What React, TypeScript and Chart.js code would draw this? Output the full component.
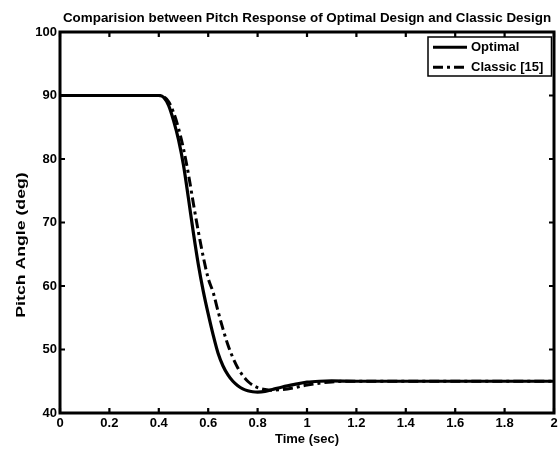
import React, { useEffect, useRef } from 'react';
import { Chart, registerables } from 'chart.js';

Chart.register(...registerables);

const chartTitle = 'Comparision between Pitch Response of Optimal Design and Classic Design';
const xTitle = 'Time (sec)';
const yTitle = 'Pitch Angle (deg)';
const seriesNames = ['Optimal', 'Classic [15]'];

const timeOptimal = [0, 0.4, 0.42, 0.44, 0.46, 0.48, 0.5, 0.52, 0.54, 0.56, 0.58, 0.6, 0.62, 0.64, 0.66, 0.68, 0.7, 0.72, 0.74, 0.76, 0.78, 0.8, 0.83, 0.86, 0.9, 0.95, 1.0, 1.05, 1.1, 1.2, 2.0];
const pitchOptimal = [90, 90, 89.7, 88.4, 86.0, 83.0, 79.0, 73.8, 68.4, 63.4, 59.2, 55.6, 52.3, 49.4, 47.4, 46.0, 45.0, 44.3, 43.8, 43.5, 43.35, 43.3, 43.4, 43.7, 44.1, 44.5, 44.85, 45.0, 45.05, 45.0, 45.0];

const timeClassic = [0, 0.4, 0.42, 0.44, 0.46, 0.48, 0.5, 0.52, 0.54, 0.56, 0.58, 0.6, 0.62, 0.64, 0.66, 0.68, 0.7, 0.72, 0.74, 0.76, 0.78, 0.8, 0.83, 0.86, 0.9, 0.95, 1.0, 1.05, 1.1, 1.15, 1.2, 2.0];
const pitchClassic = [90, 90, 89.8, 89.0, 87.3, 84.8, 81.6, 77.6, 73.0, 68.6, 64.6, 61.2, 59.0, 56.0, 53.2, 50.7, 48.7, 47.1, 45.9, 45.0, 44.4, 44.0, 43.7, 43.6, 43.7, 44.0, 44.4, 44.7, 44.9, 45.0, 45.0, 45.0];

const xTicks = [0, 0.2, 0.4, 0.6, 0.8, 1, 1.2, 1.4, 1.6, 1.8, 2];
const xTickLabels = ['0', '0.2', '0.4', '0.6', '0.8', '1', '1.2', '1.4', '1.6', '1.8', '2'];
const yTicks = [40, 50, 60, 70, 80, 90, 100];
const yTickLabels = ['40', '50', '60', '70', '80', '90', '100'];

const FONT = '"Liberation Sans", Arial, sans-serif';
const DASH_DOT = [10, 4, 3, 4];

function txt(ctx: any, s: string, x: number, y: number, align: string, stretch = 1, rotate = false) {
  ctx.save();
  ctx.translate(x, y);
  ctx.scale(1, stretch);
  if (rotate) ctx.rotate(-Math.PI / 2);
  ctx.textAlign = align;
  ctx.textBaseline = 'middle';
  ctx.fillText(s, 0, 0);
  ctx.restore();
}

const framePlugin = {
  id: 'matlabFrame',
  afterDraw(chart: any) {
    const { ctx, chartArea } = chart;
    const { left, right, top, bottom } = chartArea;
    const xs = chart.scales.x;
    const ys = chart.scales.y;
    ctx.save();
    ctx.strokeStyle = '#000';
    ctx.lineWidth = 3;
    ctx.setLineDash([]);
    ctx.strokeRect(left, top, right - left, bottom - top);
    const tl = 5;
    ctx.lineWidth = 2.2;
    ctx.beginPath();
    xTicks.forEach((v) => {
      const px = xs.getPixelForValue(v);
      ctx.moveTo(px, bottom);
      ctx.lineTo(px, bottom - tl);
      ctx.moveTo(px, top);
      ctx.lineTo(px, top + tl);
    });
    yTicks.forEach((v) => {
      const py = ys.getPixelForValue(v);
      ctx.moveTo(left, py);
      ctx.lineTo(left + tl, py);
      ctx.moveTo(right, py);
      ctx.lineTo(right - tl, py);
    });
    ctx.stroke();

    ctx.fillStyle = '#000';
    ctx.font = `bold 13px ${FONT}`;
    xTicks.forEach((v, i) => {
      txt(ctx, xTickLabels[i], xs.getPixelForValue(v), 423, 'center');
    });
    yTicks.forEach((v, i) => {
      txt(ctx, yTickLabels[i], 57, ys.getPixelForValue(v), 'right');
    });
    txt(ctx, xTitle, (left + right) / 2, 439, 'center');
    txt(ctx, yTitle, 21, 245, 'center', 1.36, true);
    ctx.font = `bold 13.4px ${FONT}`;
    txt(ctx, chartTitle, (left + right) / 2, 18, 'center');

    // legend
    const lx = 428, ly = 37, lw = 123.5, lh = 39;
    ctx.fillStyle = '#fff';
    ctx.fillRect(lx, ly, lw, lh);
    ctx.strokeStyle = '#000';
    ctx.lineWidth = 1.5;
    ctx.strokeRect(lx, ly, lw, lh);
    const rows = [47.3, 67.3];
    ctx.lineWidth = 3;
    rows.forEach((ry, i) => {
      ctx.setLineDash(i === 0 ? [] : DASH_DOT);
      ctx.beginPath();
      ctx.moveTo(433, ry);
      ctx.lineTo(467, ry);
      ctx.stroke();
    });
    ctx.setLineDash([]);
    ctx.fillStyle = '#000';
    ctx.font = `bold 13px ${FONT}`;
    rows.forEach((ry, i) => {
      txt(ctx, seriesNames[i], 471, ry + 0.5, 'left');
    });
    ctx.restore();
  },
};

export default function App() {
  const ref = useRef<HTMLCanvasElement | null>(null);
  useEffect(() => {
    if (!ref.current) return;
    const chart = new Chart(ref.current, {
      type: 'line',
      data: {
        datasets: [
          {
            label: seriesNames[0],
            data: timeOptimal.map((t, i) => ({ x: t, y: pitchOptimal[i] })),
            borderColor: '#000',
            borderWidth: 3.2,
            pointRadius: 0,
            cubicInterpolationMode: 'monotone',
            fill: false,
          },
          {
            label: seriesNames[1],
            data: timeClassic.map((t, i) => ({ x: t, y: pitchClassic[i] })),
            borderColor: '#000',
            borderWidth: 3,
            borderDash: DASH_DOT,
            pointRadius: 0,
            cubicInterpolationMode: 'monotone',
            fill: false,
          },
        ],
      },
      options: {
        responsive: false,
        animation: false,
        layout: { padding: { top: 32, right: 5, left: 0, bottom: 0 } },
        plugins: {
          legend: { display: false },
          title: { display: false },
          tooltip: { enabled: false },
        },
        scales: {
          x: {
            type: 'linear',
            min: 0,
            max: 2,
            afterBuildTicks: (s: any) => {
              s.ticks = xTicks.map((v) => ({ value: v }));
            },
            afterFit: (s: any) => {
              s.height = 36;
            },
            grid: { display: false, drawTicks: false },
            border: { display: false },
            ticks: { display: false },
          },
          y: {
            type: 'linear',
            min: 40,
            max: 100,
            afterBuildTicks: (s: any) => {
              s.ticks = yTicks.map((v) => ({ value: v }));
            },
            afterFit: (s: any) => {
              s.width = 60;
            },
            grid: { display: false, drawTicks: false },
            border: { display: false },
            ticks: { display: false },
          },
        },
      } as any,
      plugins: [framePlugin],
    });
    return () => chart.destroy();
  }, []);
  return (
    <div style={{ position: 'absolute', left: 0, top: 0, width: 559, height: 449, background: '#fff' }}>
      <canvas ref={ref} width={559} height={449} style={{ display: 'block' }} />
    </div>
  );
}
